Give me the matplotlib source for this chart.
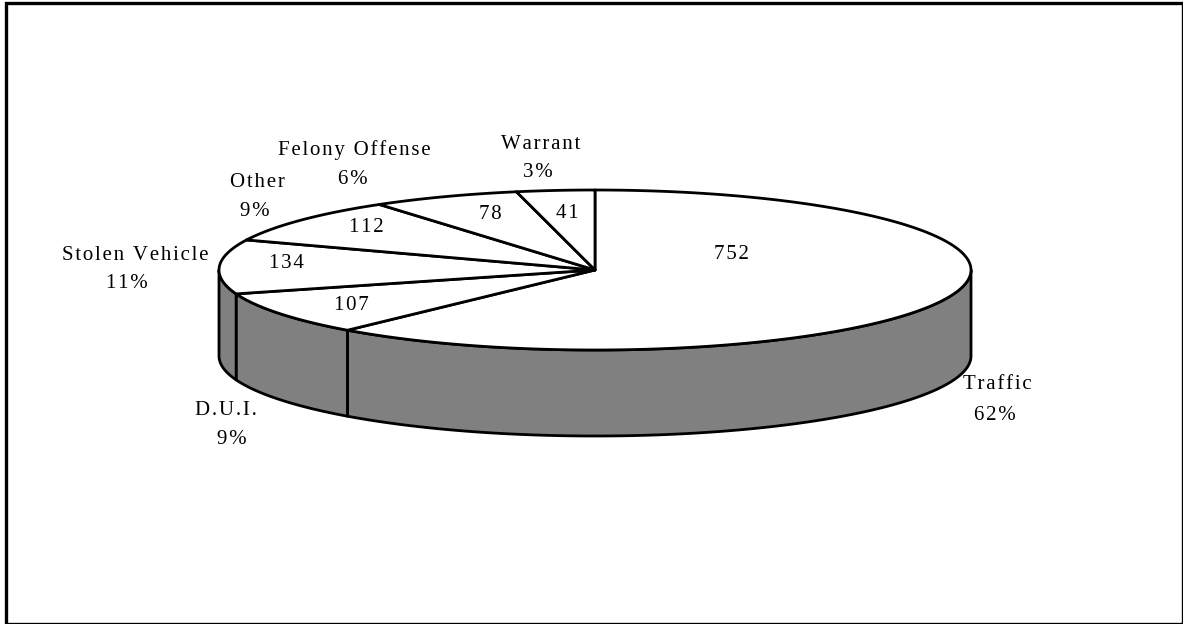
import numpy as np
import matplotlib
matplotlib.use('Agg')
import matplotlib.pyplot as plt
from matplotlib.patches import Polygon

plt.rcParams['font.family'] = ['Liberation Serif', 'DejaVu Serif']

categories = ['Traffic', 'D.U.I.', 'Stolen Vehicle', 'Other', 'Felony Offense', 'Warrant']
counts = [752, 107, 134, 112, 78, 41]
percents = ['62%', '9%', '11%', '9%', '6%', '3%']

# pixel geometry of the tilted pie
cx, cy = 595, 270
rx, ry = 376, 80
depth = 86

# label positions in pixels
name_pos = [(997, 384.5), (226, 410.5), (135, 255.5), (257, 182.5), (354, 150), (541, 144.5)]
pct_pos = [(995, 415), (232, 439), (127, 283), (255, 211), (353, 179), (538, 172.5)]
count_pos = [(731, 254.5), (351, 305), (286, 263), (366, 227), (490, 214.5), (567, 213)]

fig = plt.figure(figsize=(11.83, 6.24), dpi=100)
ax = fig.add_axes([0, 0, 1, 1])
ax.set_xlim(0, 1183)
ax.set_ylim(624, 0)
ax.axis('off')

ax.add_patch(plt.Rectangle((6, 2.5), 1177, 621.5, fc='white', ec='black', lw=2.4, zorder=0, clip_on=True))


def ell(t):
    return cx + rx * np.cos(np.radians(t)), cy - ry * np.sin(np.radians(t))


def spaced(s):
    # the original has wide letter spacing
    return '\u200a'.join(s)


fracs = np.array(counts) / sum(counts) * 360
edges = 90 - np.concatenate([[0], np.cumsum(fracs)])

# side wall: everything on the front half
for a, b in zip(edges[:-1], edges[1:]):
    t = np.linspace(a, b, 200)
    t = t[(np.sin(np.radians(t)) <= 0)]
    if len(t) == 0:
        continue
    x, y = ell(t)
    pts = np.r_[np.c_[x, y], np.c_[x, y + depth][::-1]]
    ax.add_patch(Polygon(pts, fc='#808080', ec='black', lw=2, zorder=2, joinstyle='round'))

# top slices
for a, b in zip(edges[:-1], edges[1:]):
    t = np.linspace(a, b, 200)
    x, y = ell(t)
    pts = np.r_[[[cx, cy]], np.c_[x, y]]
    ax.add_patch(Polygon(pts, fc='white', ec='black', lw=2, zorder=3, joinstyle='round'))

for c, (lx, ly) in zip(categories, name_pos):
    ax.text(lx, ly, spaced(c), ha='center', va='center', fontsize=15, zorder=5)
for p, (lx, ly) in zip(percents, pct_pos):
    ax.text(lx, ly, spaced(p), ha='center', va='center', fontsize=15, zorder=5)
for n, (lx, ly) in zip(counts, count_pos):
    ax.text(lx, ly, spaced(str(n)), ha='center', va='center', fontsize=15, zorder=5)

fig.savefig('out.png', dpi=100)
